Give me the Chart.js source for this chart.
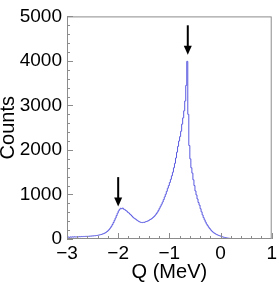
<!DOCTYPE html>
<html>
<head>
<meta charset="utf-8">
<script src="https://cdn.jsdelivr.net/npm/chart.js@4"></script>
<style>
  html, body { margin: 0; padding: 0; background: #fff; }
  #wrap { width: 280px; height: 282px; }
</style>
</head>
<body>
<div id="wrap"><canvas id="chart"></canvas></div>
<script>
/* histogram: Q (MeV), 0.02 MeV bins from -3 to 1 */
const qMin = -3.0;
const qMax = 1.0;
const binWidth = 0.02;
const counts = [
  40, 44, 38, 46, 42, 48, 43, 50, 45, 47,
  52, 48, 55, 50, 57, 53, 58, 55, 61, 57,
  62, 59, 66, 63, 70, 67, 74, 72, 78, 80,
  85, 90, 96, 102, 110, 118, 128, 140, 155, 172,
  195, 220, 250, 285, 325, 370, 420, 470, 525, 580,
  630, 665, 690, 680, 695, 670, 660, 640, 625, 600,
  585, 560, 540, 515, 490, 470, 455, 440, 420, 405,
  390, 380, 372, 368, 375, 372, 385, 392, 400, 410,
  425, 440, 452, 470, 490, 512, 540, 570, 605, 645,
  690, 735, 780, 830, 885, 945, 1005, 1070, 1140, 1200,
  1270, 1340, 1420, 1500, 1600, 1700, 1820, 1950, 2080, 2200,
  2300, 2420, 2580, 2720, 2880, 3100, 3450, 3990, 2800, 2100,
  1800, 1600, 1480, 1330, 1200, 1080, 990, 900, 820, 760,
  680, 610, 540, 480, 430, 380, 335, 300, 265, 235,
  205, 180, 158, 140, 125, 110, 98, 88, 78, 70,
  62, 52, 45, 38, 33, 27, 23, 19, 16, 13,
  11, 10, 8, 7, 7, 6, 5, 5, 4, 4,
  4, 3, 3, 3, 3, 2, 3, 2, 2, 2,
  2, 2, 1, 2, 1, 1, 1, 2, 1, 1,
  1, 1, 1, 0, 1, 1, 0, 1, 1, 0
];

/* arrows marking the two peaks */
const arrowQ = [-0.64, -2.0];
const arrowTop = [4800, 1390];
const arrowTip = [4140, 730];

const xTicks = [-3, -2, -1, 0, 1];
const yTicks = [0, 1000, 2000, 3000, 4000, 5000];

// step points at bin left edges, plus closing point at the upper edge
const histPoints = counts.map((c, i) => ({ x: qMin + i * binWidth, y: c }));
histPoints.push({ x: qMax, y: counts[counts.length - 1] });

const frameColor = '#8c8c8c';

const framePlugin = {
  id: 'frame',
  afterDraw(chart) {
    const { ctx, chartArea: a, scales } = chart;
    const xs = scales.x, ys = scales.y;
    ctx.save();
    ctx.strokeStyle = frameColor;
    ctx.lineWidth = 1;
    ctx.strokeRect(a.left + 0.5, a.top + 0.5, a.right - a.left - 1, a.bottom - a.top - 1);

    // x ticks, inward from bottom
    ctx.beginPath();
    for (let v = -3; v <= 1.0001; v += 0.2) {
      const px = Math.round(xs.getPixelForValue(v)) + 0.5;
      const major = Math.abs(v - Math.round(v)) < 1e-6;
      const len = major ? 6 : 3;
      ctx.moveTo(px, a.bottom);
      ctx.lineTo(px, a.bottom - len);
    }
    // y ticks, inward from left
    for (let v = 0; v <= 5000; v += 200) {
      const py = Math.round(ys.getPixelForValue(v)) + 0.5;
      const len = v % 1000 === 0 ? 6 : 3;
      ctx.moveTo(a.left, py);
      ctx.lineTo(a.left + len, py);
    }
    ctx.stroke();

    // arrows
    ctx.fillStyle = '#000';
    ctx.strokeStyle = '#000';
    arrowQ.forEach((q, i) => {
      const px = xs.getPixelForValue(q);
      const y0 = ys.getPixelForValue(arrowTop[i]);
      const y1 = ys.getPixelForValue(arrowTip[i]);
      ctx.lineWidth = 2;
      ctx.beginPath();
      ctx.moveTo(px, y0);
      ctx.lineTo(px, y1 - 8);
      ctx.stroke();
      ctx.beginPath();
      ctx.moveTo(px - 4, y1 - 9);
      ctx.lineTo(px + 4, y1 - 9);
      ctx.lineTo(px, y1);
      ctx.closePath();
      ctx.fill();
    });
    ctx.restore();
  }
};

new Chart(document.getElementById('chart'), {
  type: 'line',
  data: {
    datasets: [{
      data: histPoints,
      stepped: 'before',
      borderColor: 'rgb(90, 90, 225)',
      borderWidth: 1,
      pointRadius: 0,
      fill: false
    }]
  },
  options: {
    responsive: true,
    maintainAspectRatio: false,
    animation: false,
    layout: { padding: { top: 7, right: 4, left: 0, bottom: 0 } },
    plugins: { legend: { display: false }, tooltip: { enabled: false } },
    scales: {
      x: {
        type: 'linear',
        min: qMin,
        max: qMax,
        afterBuildTicks: s => { s.ticks = xTicks.map(v => ({ value: v })); },
        afterFit: s => { s.height = 43; },
        grid: { display: false, drawTicks: false },
        border: { display: false },
        ticks: {
          padding: 3,
          color: '#000',
          font: { family: 'Liberation Sans', size: 19 },
          callback: v => (v < 0 ? '\u2212' + Math.abs(v) : String(v))
        },
        title: {
          display: true,
          text: 'Q (MeV)',
          color: '#000',
          font: { family: 'Liberation Sans', size: 20, lineHeight: 1 },
          padding: { top: 2, bottom: 0 }
        }
      },
      y: {
        min: 0,
        max: 5000,
        afterBuildTicks: s => { s.ticks = yTicks.map(v => ({ value: v })); },
        afterFit: s => { s.width = 67; },
        grid: { display: false, drawTicks: false },
        border: { display: false },
        ticks: {
          padding: 5,
          color: '#000',
          font: { family: 'Liberation Sans', size: 19 },
          callback: v => String(v)
        },
        title: {
          display: true,
          text: 'Counts',
          color: '#000',
          font: { family: 'Liberation Sans', size: 20, lineHeight: 0.8 },
          padding: { top: 0, bottom: 0 }
        }
      }
    }
  },
  plugins: [framePlugin]
});
</script>
</body>
</html>
